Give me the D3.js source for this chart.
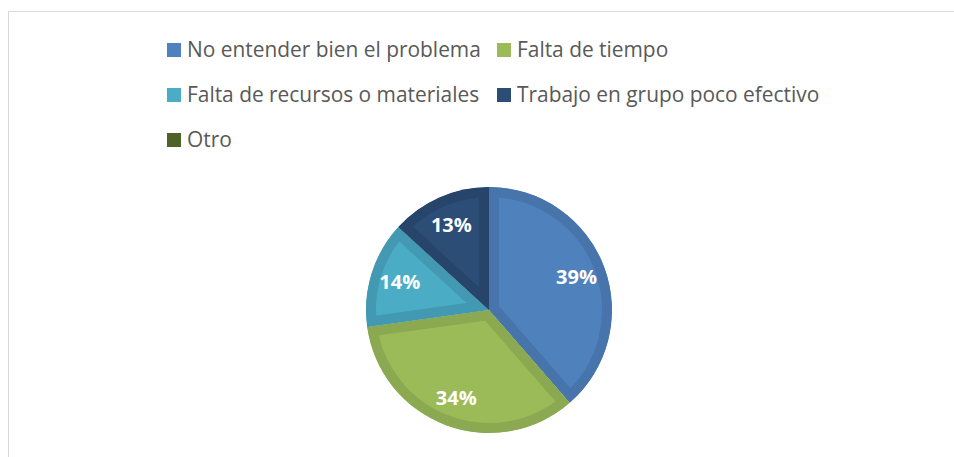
<!DOCTYPE html>
<html><head><meta charset="utf-8">
<script src="https://cdn.jsdelivr.net/npm/d3@7"></script>
<style>html,body{margin:0;padding:0;background:#fff;}svg{display:block;}</style>
</head><body>
<svg id="chart" width="954" height="457"></svg>
<script>
const categories = ["No entender bien el problema", "Falta de tiempo", "Falta de recursos o materiales", "Trabajo en grupo poco efectivo", "Otro"];
const values = [38.6, 34.2, 14.0, 13.2, 0];
const baseColors = ["#4F81BD", "#9BBB59", "#4BACC6", "#2C4D75", "#4F6228"];
const bandColors = ["#4674AB", "#8BA950", "#4399B1", "#27446A", "#46581F"];

const svg = d3.select("#chart");
svg.append("rect").attr("x", 8.5).attr("y", 11.5).attr("width", 1000).attr("height", 1000)
  .attr("fill", "none").attr("stroke", "#D9D9D9").attr("stroke-width", 1);

// Legend
const legendItems = [
  {i:0, x:167, y:43}, {i:1, x:497, y:43},
  {i:2, x:167, y:88}, {i:3, x:497, y:88},
  {i:4, x:167, y:133}
];
const lg = svg.append("g");
legendItems.forEach(d => {
  lg.append("rect").attr("x", d.x).attr("y", d.y).attr("width", 14).attr("height", 14).attr("fill", baseColors[d.i]);
  lg.append("text").attr("x", d.x + 20).attr("y", d.y + 14)
    .attr("font-family", "'Open Sans', sans-serif").attr("font-size", 20.9)
    .attr("fill", "#595959").text(categories[d.i]);
});

// Pie
const cx = 489, cy = 310, R = 123, band = 10;
const pie = d3.pie().sort(null).value(d => d.v);
const arcs = pie(values.map((v, i) => ({v, i})));
const arc = d3.arc().innerRadius(0).outerRadius(R);
const g = svg.append("g").attr("transform", `translate(${cx},${cy})`);
const defs = svg.append("defs");
arcs.forEach((a, k) => {
  if (a.data.v <= 0) return;
  const id = "clip" + k;
  defs.append("clipPath").attr("id", id).append("path").attr("d", arc(a));
  g.append("path").attr("d", arc(a)).attr("fill", baseColors[a.data.i])
    .attr("stroke", bandColors[a.data.i]).attr("stroke-width", band * 2)
    .attr("stroke-linejoin", "miter")
    .attr("clip-path", `url(#${id})`);
});
const total = d3.sum(values);
const labelArc = d3.arc().innerRadius(R * 0.76).outerRadius(R * 0.76);
arcs.forEach(a => {
  if (a.data.v <= 0) return;
  const [x, y] = labelArc.centroid(a);
  g.append("text").attr("x", x).attr("y", y).attr("dy", "0.36em")
    .attr("text-anchor", "middle")
    .attr("font-family", "'Open Sans', sans-serif").attr("font-weight", "bold").attr("font-size", 20)
    .attr("fill", "#FFFFFF").text(Math.round(a.data.v / total * 100) + "%");
});
</script>
</body></html>
